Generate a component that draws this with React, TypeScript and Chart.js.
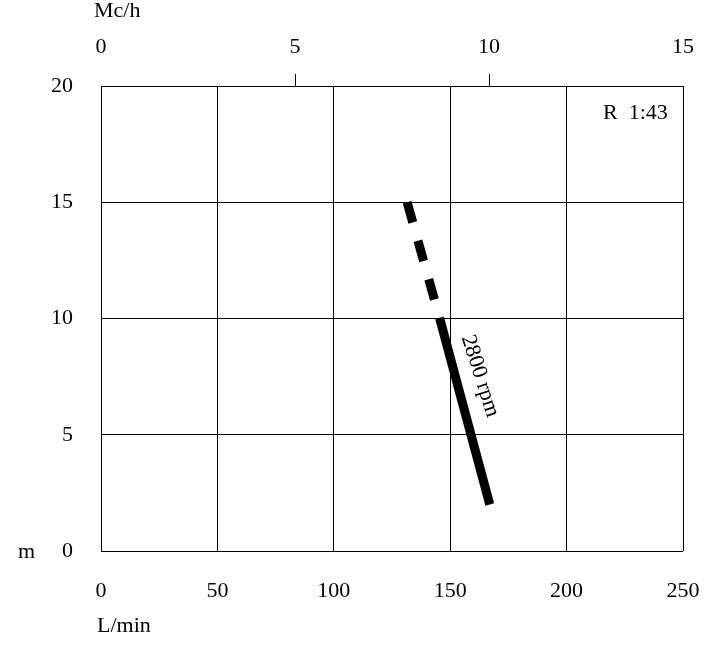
import React, { useEffect, useRef } from "react";
import { Chart, registerables } from "chart.js";

Chart.register(...registerables);

// Flow in L/min (bottom axis), head in m (left axis)
const solidFlow = [167, 145.5];
const solidHead = [2, 10];
const dashedFlow = [131.5, 145.5];
const dashedHead = [15, 10];

const flowTicks = [0, 50, 100, 150, 200, 250];
const m3hTicks = [0, 5, 10, 15];
const headTicks = [0, 5, 10, 15, 20];

const curveLabel = "2800 rpm";
const modelLabel = "R  1:43";
const topUnit = "Mc/h";
const bottomUnit = "L/min";
const leftUnit = "m";

const FONT = '"Liberation Serif", "Times New Roman", serif';

export default function App() {
  const ref = useRef<HTMLCanvasElement | null>(null);

  useEffect(() => {
    if (!ref.current) return;
    const textPlugin = {
      id: "texts",
      afterDraw(chart: any) {
        const ctx = chart.ctx;
        ctx.save();
        ctx.fillStyle = "#000";
        ctx.font = `22px ${FONT}`;
        ctx.textBaseline = "middle";
        ctx.textAlign = "left";
        ctx.fillText(topUnit, 94, 11);
        ctx.fillText(bottomUnit, 97, 626);
        ctx.fillText(leftUnit, 18, 552);
        ctx.fillText(modelLabel, 603, 113);
        ctx.translate(480, 376);
        ctx.rotate((72 * Math.PI) / 180);
        ctx.textAlign = "center";
        ctx.fillText(curveLabel, 0, 0);
        ctx.restore();
      },
    };

    const chart = new Chart(ref.current, {
      type: "scatter",
      data: {
        datasets: [
          {
            data: solidFlow.map((x, i) => ({ x, y: solidHead[i] })),
            showLine: true,
            borderColor: "#000",
            backgroundColor: "#000",
            borderWidth: 9,
            pointRadius: 0,
            xAxisID: "x",
            yAxisID: "y",
          },
          {
            data: dashedFlow.map((x, i) => ({ x, y: dashedHead[i] })),
            showLine: true,
            borderColor: "#000",
            backgroundColor: "#000",
            borderWidth: 9,
            borderDash: [21, 19],
            pointRadius: 0,
            xAxisID: "x",
            yAxisID: "y",
          },
        ],
      },
      options: {
        animation: false,
        responsive: false,
        devicePixelRatio: 1,
        layout: { padding: { left: 0, right: 24, top: 0, bottom: 0 } },
        plugins: { legend: { display: false }, tooltip: { enabled: false } },
        scales: {
          x: {
            type: "linear",
            position: "bottom",
            min: 0,
            max: 250,
            afterBuildTicks: (s: any) => {
              s.ticks = flowTicks.map((v) => ({ value: v }));
            },
            ticks: { color: "#000", padding: 27, font: { family: FONT, size: 22 }, maxRotation: 0 },
            grid: { color: "#000", lineWidth: 1, drawTicks: false },
            border: { display: false },
            afterFit: (s: any) => {
              s.height = 96;
              s.paddingLeft = 0;
              s.paddingRight = 0;
            },
          },
          x2: {
            type: "linear",
            position: "top",
            min: 0,
            max: 15,
            afterBuildTicks: (s: any) => {
              s.ticks = m3hTicks.map((v) => ({ value: v }));
            },
            ticks: { color: "#000", padding: 14, font: { family: FONT, size: 22 }, maxRotation: 0 },
            grid: {
              drawOnChartArea: false,
              drawTicks: true,
              tickLength: 12,
              lineWidth: 1,
              color: (c: any) =>
                c.tick && (c.tick.value === 5 || c.tick.value === 10) ? "#000" : "rgba(0,0,0,0)",
            },
            border: { display: false },
            afterFit: (s: any) => {
              s.height = 86;
              s.paddingLeft = 0;
              s.paddingRight = 0;
            },
          },
          y: {
            type: "linear",
            position: "left",
            min: 0,
            max: 20,
            afterBuildTicks: (s: any) => {
              s.ticks = headTicks.map((v) => ({ value: v }));
            },
            ticks: { color: "#000", padding: 28, font: { family: FONT, size: 22 } },
            grid: { color: "#000", lineWidth: 1, drawTicks: false },
            border: { display: false },
            afterFit: (s: any) => {
              s.width = 101;
              s.paddingTop = 0;
              s.paddingBottom = 0;
            },
          },
        },
      },
      plugins: [textPlugin],
    });
    return () => chart.destroy();
  }, []);

  return (
    <div style={{ position: "absolute", left: 0, top: 0, width: 707, height: 647, background: "#fff" }}>
      <canvas ref={ref} width={707} height={647} style={{ display: "block" }} />
    </div>
  );
}
